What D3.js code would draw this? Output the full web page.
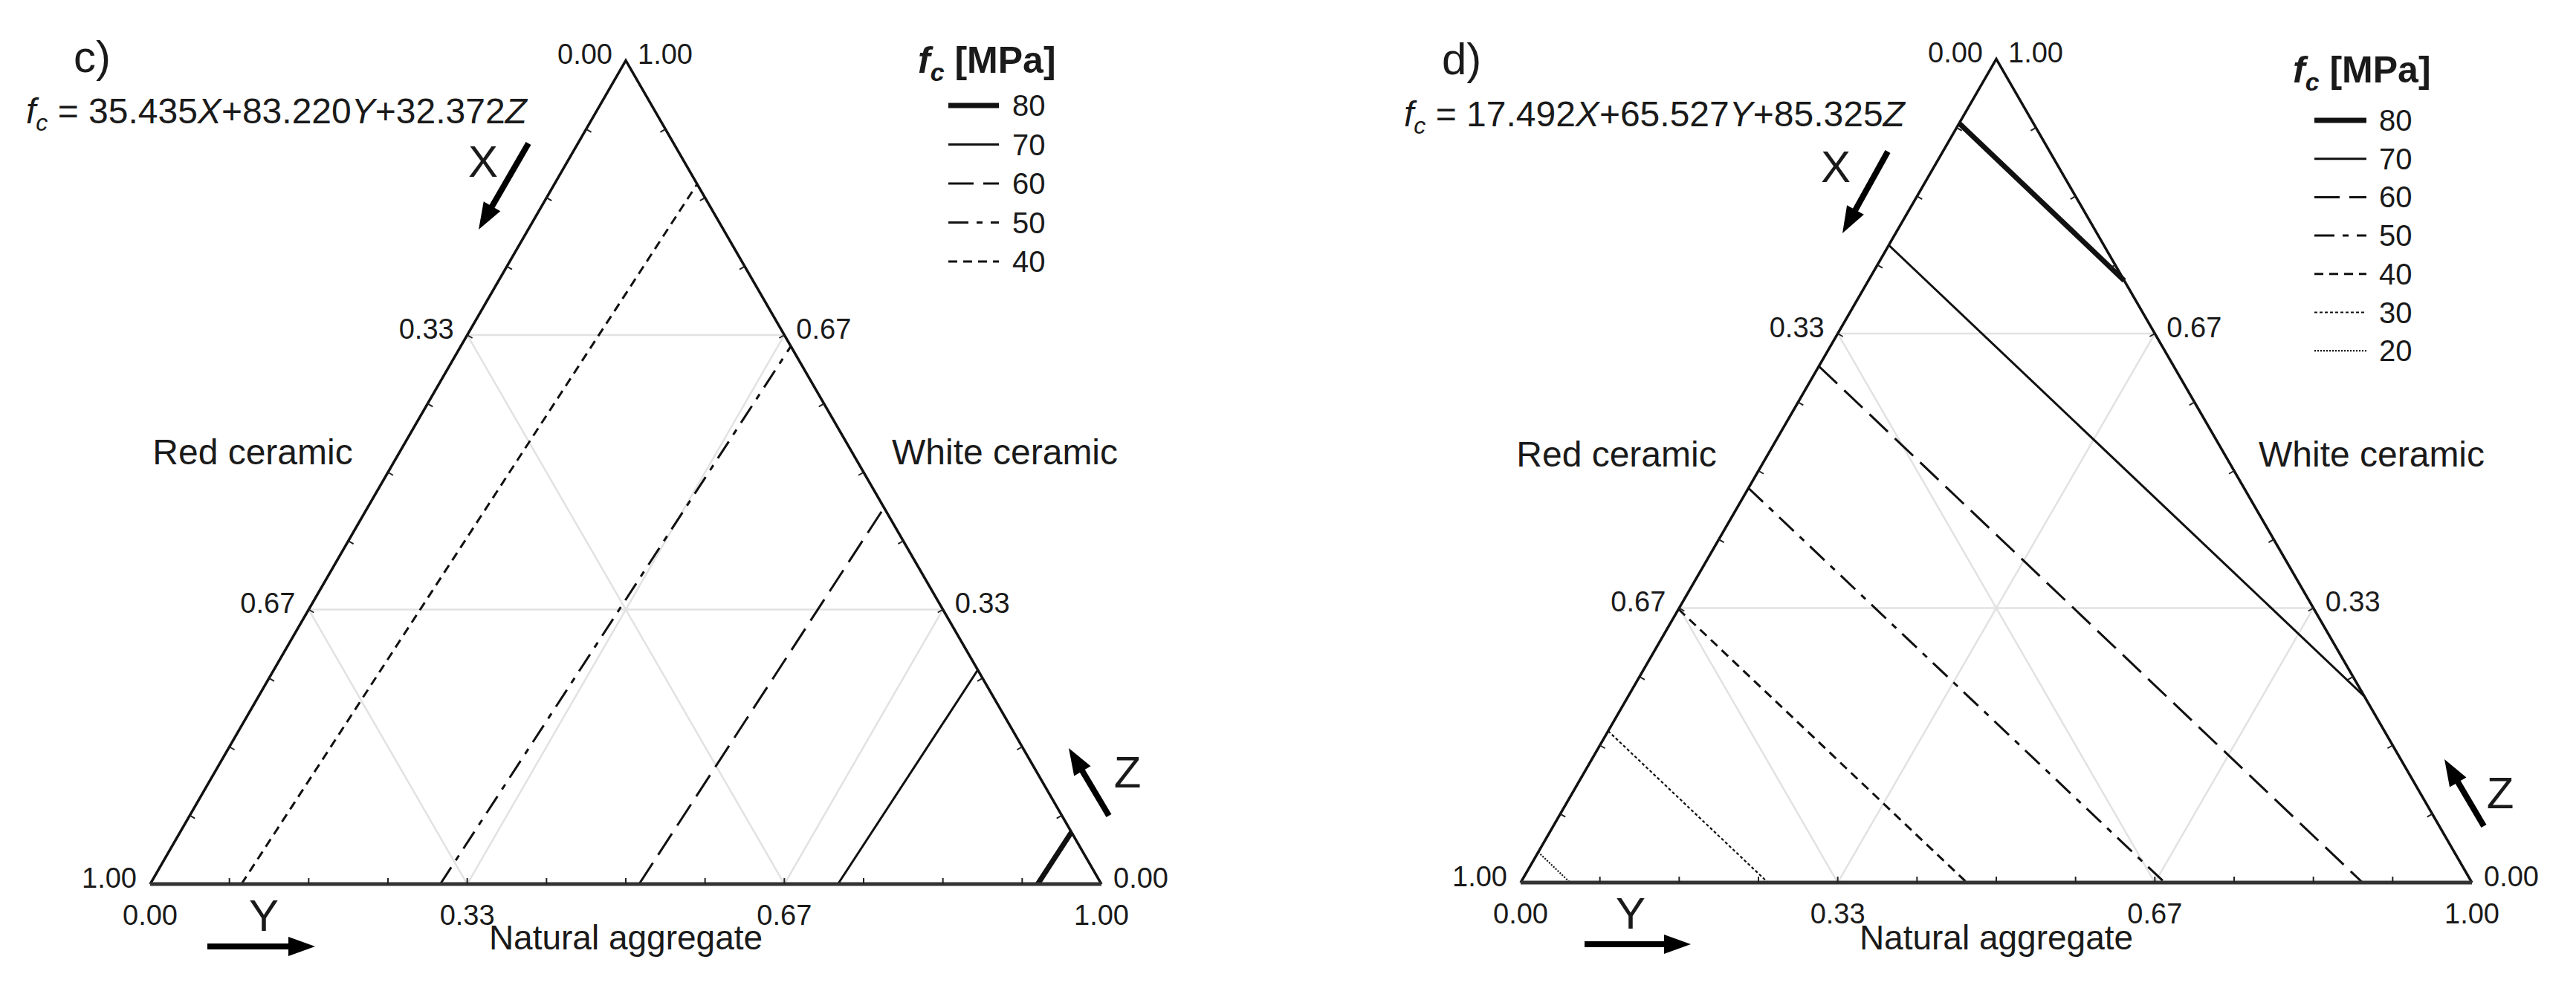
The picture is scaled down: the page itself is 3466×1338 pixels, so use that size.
<!DOCTYPE html>
<html>
<head>
<meta charset="utf-8">
<script src="https://cdn.jsdelivr.net/npm/d3@7"></script>
<style>
body { margin: 0; background: #fff; }
svg { display: block; }
text { font-family: "Liberation Sans", Arial, sans-serif; fill: #1a1a1a; }
</style>
</head>
<body>
<svg id="chart" width="3466" height="1338"></svg>
<script>
// ---- data ----
// model coefficients [X, Y, Z] shown in each panel
const coefC = [35.435, 83.220, 32.372];
const coefD = [17.492, 65.527, 85.325];

// contour levels (MPa)
const levelsC = [80, 70, 60, 50, 40];
const levelsD = [80, 70, 60, 50, 40, 30, 20];

// contour end points as ternary compositions [X, Y, Z]
const startsC = [[0.067, 0.933, 0], [0.277, 0.723, 0], [0.486, 0.514, 0], [0.695, 0.305, 0], [0.904, 0.096, 0]];
const endsC   = [[0, 0.937, 0.063], [0, 0.740, 0.260], [0, 0.543, 0.457], [0, 0.347, 0.653], [0, 0.150, 0.850]];

const startsD = [[0.078, 0, 0.922], [0.226, 0, 0.774], [0.373, 0, 0.627], [0.521, 0, 0.479], [0.668, 0, 0.332], [0.816, 0, 0.184], [0.963, 0, 0.037]];
const endsD   = [[0, 0.269, 0.731], [0, 0.774, 0.226], [0.115, 0.885, 0], [0.323, 0.677, 0], [0.531, 0.469, 0], [0.740, 0.260, 0], [0.948, 0.052, 0]];

// axis ticks
const tickValues = [0, 1/3, 2/3, 1];
const tickLabels = ["0.00", "0.33", "0.67", "1.00"];
const gridValues = [1/3, 2/3];

const axisNames = ["Red ceramic", "Natural aggregate", "White ceramic"];
const varNames = ["X", "Y", "Z"];

// ---- styles ----
const levelStyle = {
    80: {w: 7, dash: null},
    70: {w: 3, dash: null},
    60: {w: 3, dash: "34,13"},
    50: {w: 3, dash: "27,11,8,11"},
    40: {w: 3, dash: "12,8"},
    30: {w: 2.2, dash: "4,3"},
    20: {w: 2.2, dash: "2,2"}
};

const panels = [
    {
        letter: "c)", coef: coefC, levels: levelsC, starts: startsC, ends: endsC,
        left: 202, base: 1190, side: 1280,
        letterPos: [99, 97], eqPos: [35, 166],
        xLab: [650, 238], xArrow: [711, 193, 644, 309],
        yLab: [355, 1253], yArrow: [279, 1274, 424, 1274],
        zLab: [1517, 1060], zArrow: [1492, 1098, 1438, 1007],
        redPos: [340, 625], whitePos: [1352, 625], natPos: [842, 1278],
        legTitle: [1235, 98], legLine: [1276, 1344], legNum: 1362, legY0: 142, legStep: 52.5
    },
    {
        letter: "d)", coef: coefD, levels: levelsD, starts: startsD, ends: endsD,
        left: 2046, base: 1188, side: 1280,
        letterPos: [1940, 100], eqPos: [1889, 170],
        xLab: [2470, 245], xArrow: [2540, 204, 2479, 314],
        yLab: [2194, 1250], yArrow: [2132, 1271, 2275, 1271],
        zLab: [3364, 1088], zArrow: [3342, 1112, 3289, 1022],
        redPos: [2175, 628], whitePos: [3191, 628], natPos: [2686, 1278],
        legTitle: [3085, 111], legLine: [3114, 3184], legNum: 3201, legY0: 162, legStep: 51.7
    }
];

const svg = d3.select("#chart");
svg.append("rect").attr("width", 3466).attr("height", 1338).attr("fill", "#fff");

const line = d3.line();

const drawArrow = (g, a) =>
{
    const [x1, y1, x2, y2] = a;
    const len = Math.hypot(x2 - x1, y2 - y1);
    const ux = (x2 - x1) / len, uy = (y2 - y1) / len;
    const head = 36, half = 13;
    const bx = x2 - ux * head, by = y2 - uy * head;
    g.append("path")
        .attr("d", line([[x1, y1], [bx + ux * 4, by + uy * 4]]))
        .attr("stroke", "#000")
        .attr("stroke-width", 8)
        .attr("fill", "none");
    g.append("path")
        .attr("d", line([[x2, y2], [bx - uy * half, by + ux * half], [bx + uy * half, by - ux * half]]) + "Z")
        .attr("fill", "#000");
}

const drawPanel = (p) =>
{
    const g = svg.append("g");
    const h = p.side * Math.sqrt(3) / 2;
    const xs = d3.scaleLinear().domain([0, 1]).range([p.left, p.left + p.side]);
    const ys = d3.scaleLinear().domain([0, 1]).range([p.base, p.base - h]);
    const pt = (c) => [xs(c[1] + c[2] / 2), ys(c[2])];

    // light grid
    const gridLines = [];
    gridValues.forEach(t =>
    {
        gridLines.push([[1 - t, 0, t], [0, 1 - t, t]]);   // constant Z
        gridLines.push([[1 - t, t, 0], [0, t, 1 - t]]);   // constant Y
        gridLines.push([[t, 1 - t, 0], [t, 0, 1 - t]]);   // constant X
    });
    g.selectAll(".grid")
        .data(gridLines)
        .enter()
        .append("path")
        .attr("d", d => line(d.map(pt)))
        .attr("stroke", "#e2e2e2")
        .attr("stroke-width", 2.5)
        .attr("fill", "none");

    // contours
    g.selectAll(".contour")
        .data(p.levels)
        .enter()
        .append("path")
        .attr("d", (d, i) => line([pt(p.starts[i]), pt(p.ends[i])]))
        .attr("stroke", "#111")
        .attr("stroke-width", d => levelStyle[d].w)
        .attr("stroke-dasharray", d => levelStyle[d].dash)
        .attr("fill", "none");

    // triangle frame
    const A = pt([1, 0, 0]), B = pt([0, 1, 0]), C = pt([0, 0, 1]);
    g.append("path").attr("d", line([A, C, B])).attr("stroke", "#111").attr("stroke-width", 3.5).attr("fill", "none");
    g.append("path").attr("d", line([A, B])).attr("stroke", "#333").attr("stroke-width", 5).attr("fill", "none");

    // minor ticks every 1/12 on each side, pointing inward
    const s3 = Math.sqrt(3) / 2;
    const minor = d3.range(1, 12).map(i => i / 12);
    const tickSegs = [];
    minor.forEach(t =>
    {
        const b = pt([1 - t, t, 0]);
        tickSegs.push([b, [b[0], b[1] - 8]]);
        const l = pt([1 - t, 0, t]);
        tickSegs.push([l, [l[0] + 8 * s3, l[1] + 4]]);
        const r = pt([0, 1 - t, t]);
        tickSegs.push([r, [r[0] - 8 * s3, r[1] + 4]]);
    });
    g.selectAll(".tick")
        .data(tickSegs)
        .enter()
        .append("path")
        .attr("d", d => line(d))
        .attr("stroke", "#222")
        .attr("stroke-width", 2)
        .attr("fill", "none");

    // tick labels: X on left side, Y on bottom, Z on right side
    g.selectAll(".labX")
        .data(tickValues)
        .enter()
        .append("text")
        .attr("x", d => pt([d, 0, 1 - d])[0] - 18)
        .attr("y", d => pt([d, 0, 1 - d])[1] + 5)
        .attr("text-anchor", "end")
        .attr("font-size", 38)
        .text((d, i) => tickLabels[i]);

    g.selectAll(".labY")
        .data(tickValues)
        .enter()
        .append("text")
        .attr("x", d => pt([1 - d, d, 0])[0])
        .attr("y", d => pt([1 - d, d, 0])[1] + 55)
        .attr("text-anchor", "middle")
        .attr("font-size", 38)
        .text((d, i) => tickLabels[i]);

    g.selectAll(".labZ")
        .data(tickValues)
        .enter()
        .append("text")
        .attr("x", d => pt([0, 1 - d, d])[0] + 16)
        .attr("y", d => pt([0, 1 - d, d])[1] + 5)
        .attr("text-anchor", "start")
        .attr("font-size", 38)
        .text((d, i) => tickLabels[i]);

    // axis names
    g.append("text").attr("x", p.redPos[0]).attr("y", p.redPos[1]).attr("text-anchor", "middle").attr("font-size", 48).text(axisNames[0]);
    g.append("text").attr("x", p.natPos[0]).attr("y", p.natPos[1]).attr("text-anchor", "middle").attr("font-size", 46).text(axisNames[1]);
    g.append("text").attr("x", p.whitePos[0]).attr("y", p.whitePos[1]).attr("text-anchor", "middle").attr("font-size", 48).text(axisNames[2]);

    // variable letters and arrows
    g.append("text").attr("x", p.xLab[0]).attr("y", p.xLab[1]).attr("text-anchor", "middle").attr("font-size", 60).text(varNames[0]);
    g.append("text").attr("x", p.yLab[0]).attr("y", p.yLab[1]).attr("text-anchor", "middle").attr("font-size", 60).text(varNames[1]);
    g.append("text").attr("x", p.zLab[0]).attr("y", p.zLab[1]).attr("text-anchor", "middle").attr("font-size", 60).text(varNames[2]);
    drawArrow(g, p.xArrow);
    drawArrow(g, p.yArrow);
    drawArrow(g, p.zArrow);

    // panel letter and model equation
    g.append("text").attr("x", p.letterPos[0]).attr("y", p.letterPos[1]).attr("font-size", 60).text(p.letter);

    const fmt = d3.format(".3f");
    const eq = g.append("text").attr("x", p.eqPos[0]).attr("y", p.eqPos[1]).attr("font-size", 48);
    eq.append("tspan").attr("font-style", "italic").text("f");
    eq.append("tspan").attr("font-style", "italic").attr("font-size", 32).attr("dy", 10).text("c");
    eq.append("tspan").attr("dy", -10).text(" = " + fmt(p.coef[0]));
    eq.append("tspan").attr("font-style", "italic").text(varNames[0]);
    eq.append("tspan").text("+" + fmt(p.coef[1]));
    eq.append("tspan").attr("font-style", "italic").text(varNames[1]);
    eq.append("tspan").text("+" + fmt(p.coef[2]));
    eq.append("tspan").attr("font-style", "italic").text(varNames[2]);

    // legend
    const title = g.append("text").attr("x", p.legTitle[0]).attr("y", p.legTitle[1]).attr("font-size", 50).attr("font-weight", "bold");
    title.append("tspan").attr("font-style", "italic").text("f");
    title.append("tspan").attr("font-style", "italic").attr("font-size", 34).attr("dy", 11).text("c");
    title.append("tspan").attr("dy", -11).text(" [MPa]");

    const leg = g.selectAll(".leg")
        .data(p.levels)
        .enter()
        .append("g");
    leg.append("path")
        .attr("d", (d, i) => line([[p.legLine[0], p.legY0 + i * p.legStep], [p.legLine[1], p.legY0 + i * p.legStep]]))
        .attr("stroke", "#111")
        .attr("stroke-width", d => levelStyle[d].w)
        .attr("stroke-dasharray", d => levelStyle[d].dash)
        .attr("fill", "none");
    leg.append("text")
        .attr("x", p.legNum)
        .attr("y", (d, i) => p.legY0 + i * p.legStep + 14)
        .attr("font-size", 40)
        .text(d => d);
}

panels.forEach(drawPanel);
</script>
</body>
</html>
